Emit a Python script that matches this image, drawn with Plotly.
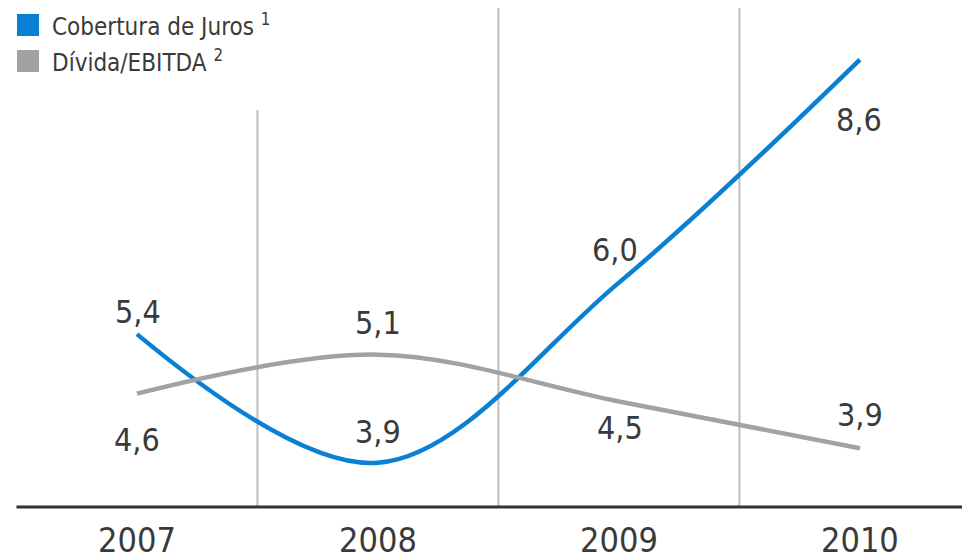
import plotly.graph_objects as go

years = ["2007", "2008", "2009", "2010"]
cobertura = [5.4, 3.9, 6.0, 8.6]
divida = [4.6, 5.1, 4.5, 3.9]
series_names = ["Cobertura de Juros <sup>1</sup>", "Dívida/EBITDA <sup>2</sup>"]

BLUE = "#0a80d5"
GRAY = "#a2a2a2"
TXT = "#3a3a3a"
FONT = "DejaVu Sans Condensed, Roboto, sans-serif"

xs = list(range(len(years)))
OFF = 8          # page offset of the figure
PLOT_H = 499     # plot area height in px


def py(page_y):
    return 1 - (page_y - OFF) / PLOT_H


def px(page_x):
    return (page_x - OFF) / 970


fig = go.Figure()
fig.add_trace(go.Scatter(x=xs, y=cobertura, mode="lines", yaxis="y",
                         line=dict(color=BLUE, width=4.5, shape="spline", smoothing=1.0),
                         showlegend=False, hoverinfo="skip"))
fig.add_trace(go.Scatter(x=xs, y=divida, mode="lines", yaxis="y2",
                         line=dict(color=GRAY, width=4.5, shape="spline", smoothing=1.0),
                         showlegend=False, hoverinfo="skip"))

# value labels
blue_shift = [(1, 22), (0, 31), (-4, 33), (-1, -60)]
gray_shift = [(0, -46), (0, 32), (1, -27), (0, 33)]
for i, v in enumerate(cobertura):
    fig.add_annotation(x=xs[i], y=v, yref="y", text=f"{v:.1f}".replace(".", ","),
                       showarrow=False, xshift=blue_shift[i][0], yshift=blue_shift[i][1],
                       font=dict(size=32, color=TXT, family=FONT))
for i, v in enumerate(divida):
    fig.add_annotation(x=xs[i], y=v, yref="y2", text=f"{v:.1f}".replace(".", ","),
                       showarrow=False, xshift=gray_shift[i][0], yshift=gray_shift[i][1],
                       font=dict(size=32, color=TXT, family=FONT))

# vertical separators
for k, xv in enumerate([0.5, 1.5, 2.5]):
    fig.add_shape(type="line", xref="x", yref="paper", x0=xv, x1=xv,
                  y0=0, y1=(py(110) if k == 0 else 1.05),
                  line=dict(color="#bdbdbd", width=2), layer="below")
# baseline
fig.add_shape(type="line", xref="x", yref="paper", x0=-0.5, x1=3.6, y0=0, y1=0,
              line=dict(color="#333333", width=3))

# custom legend
for j, (name, col) in enumerate(zip(series_names, [BLUE, GRAY])):
    yc = 25 + 36 * j
    fig.add_shape(type="rect", xref="paper", yref="paper",
                  x0=px(17), x1=px(39), y0=py(yc + 11), y1=py(yc - 11),
                  fillcolor=col, line=dict(width=0))
    fig.add_annotation(xref="paper", yref="paper", x=px(50), y=py(yc),
                       xanchor="left", yanchor="middle", text=name, showarrow=False,
                       font=dict(size=24, color=TXT, family=FONT))

fig.update_layout(
    width=970, height=559,
    margin=dict(l=0, r=0, t=0, b=559 - PLOT_H),
    paper_bgcolor="white", plot_bgcolor="white",
    xaxis=dict(range=[-0.535, 3.490], tickvals=xs, ticktext=years, showgrid=False,
               zeroline=False, showline=False, ticks="", ticklabelstandoff=10,
               tickfont=dict(size=34, color=TXT, family=FONT)),
    yaxis=dict(range=[3.385, 9.201], visible=False, showgrid=False),
    yaxis2=dict(range=[3.147, 9.544], visible=False, overlaying="y", showgrid=False),
)

fig.write_html("out.html")
